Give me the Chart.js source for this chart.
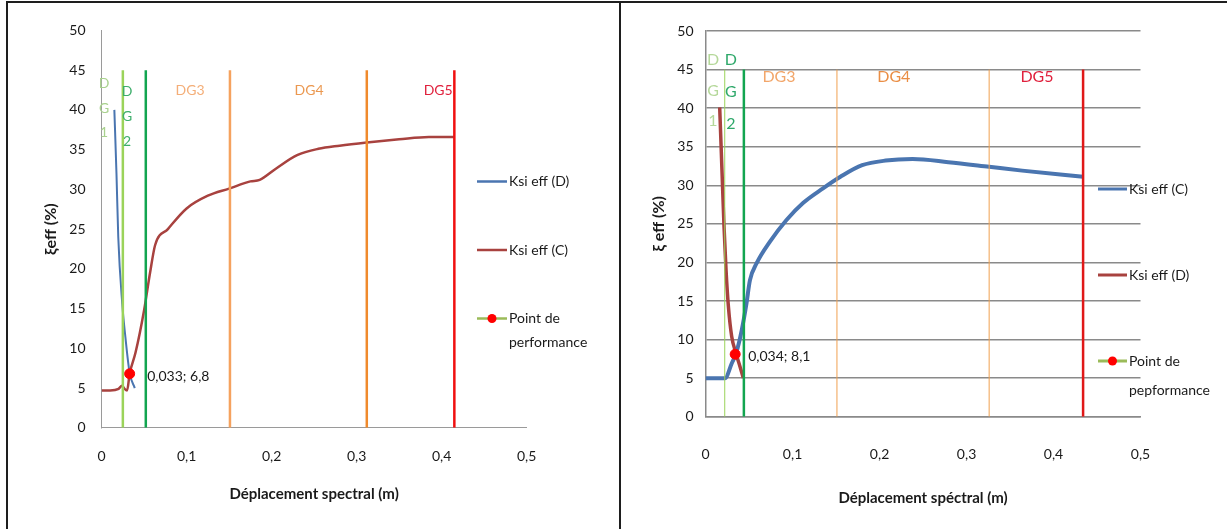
<!DOCTYPE html>
<html>
<head>
<meta charset="utf-8">
<script src="https://cdn.jsdelivr.net/npm/chart.js@4.4.1/dist/chart.umd.min.js"></script>
<style>
  html, body { margin: 0; padding: 0; background: #fff; }
  #page { position: relative; width: 1227px; height: 529px; overflow: hidden; background: #fff; }
  .rule { position: absolute; background: #1e1e1e; }
  #ruleTop { left: 6px; top: 1px; width: 1221px; height: 2px; }
  #ruleLeft { left: 6px; top: 1px; width: 2px; height: 528px; }
  #ruleMid { left: 619px; top: 1px; width: 2px; height: 528px; }
  canvas { position: absolute; top: 0; }
  #figC { left: 8px; }
  #figD { left: 621px; }
</style>
</head>
<body>
<div id="page">
  <canvas id="figC" width="611" height="529"></canvas>
  <canvas id="figD" width="606" height="529"></canvas>
  <div class="rule" id="ruleTop"></div>
  <div class="rule" id="ruleLeft"></div>
  <div class="rule" id="ruleMid"></div>
</div>
<script>
// ---- axis ticks ----
const xTickValues = [0, 0.1, 0.2, 0.3, 0.4, 0.5];
const xTickLabels = ['0', '0,1', '0,2', '0,3', '0,4', '0,5'];
const yTickValues = [0, 5, 10, 15, 20, 25, 30, 35, 40, 45, 50];
const yTickLabels = ['0', '5', '10', '15', '20', '25', '30', '35', '40', '45', '50'];

// ---- damage grades ----
const damageLevels = ['DG1', 'DG2', 'DG3', 'DG4', 'DG5'];
const limitTop = 45;

// ---- first figure: [Sd (m), ksi eff (%)] ----
const leftKsiD = [[0.015, 40.0], [0.0175, 32.0], [0.0196, 24.0], [0.0243, 15.6], [0.028, 11.4], [0.033, 6.9], [0.039, 5.0]];
const leftKsiC = [[0, 4.7], [0.01, 4.7], [0.02, 4.9], [0.024, 5.3], [0.027, 4.9], [0.03, 4.7], [0.033, 6.8], [0.04, 9.5],
  [0.05, 14.8], [0.057, 19.5], [0.063, 23.0], [0.078, 25.0], [0.1, 27.6], [0.125, 29.2], [0.15, 30.1], [0.175, 31.0],
  [0.186, 31.2], [0.205, 32.6], [0.23, 34.3], [0.255, 35.1], [0.28, 35.5], [0.312, 35.9], [0.35, 36.3], [0.385, 36.6], [0.415, 36.6]];
const leftPerf = [0.033, 6.8];
const leftLimits = [0.025, 0.052, 0.151, 0.312, 0.415];

// ---- second figure ----
const rightKsiC = [[0, 5.0], [0.0223, 5.0], [0.03, 6.9], [0.035, 8.2], [0.0415, 11.2], [0.047, 14.7], [0.051, 17.7], [0.0587, 19.9],
  [0.074, 22.7], [0.093, 25.5], [0.112, 27.7], [0.135, 29.6], [0.155, 31.1], [0.18, 32.6], [0.207, 33.2], [0.238, 33.4],
  [0.279, 33.0], [0.326, 32.4], [0.364, 31.9], [0.434, 31.1]];
const rightKsiD = [[0.0162, 40.1], [0.0188, 32.0], [0.0212, 24.6], [0.0235, 19.0], [0.0262, 14.3], [0.03, 10.4], [0.035, 8.2], [0.0395, 6.5], [0.0434, 5.0]];
const rightPerf = [0.034, 8.1];
const rightLimits = [0.022, 0.044, 0.151, 0.326, 0.434];

const BLUE = '#4A75B0';
const RED = '#A8423F';
const FONT = 'Lato, "Open Sans", "Liberation Sans", sans-serif';

const toPoints = arr => arr.map(([x, y]) => ({ x, y }));
const fmt = v => String(v).replace('.', ',');

// Annotations: grade labels, performance point label, side legend
const figureDecor = {
  id: 'figureDecor',
  afterDatasetsDraw(chart, args, opts) {
    const { ctx } = chart;
    const xs = chart.scales.x, ys = chart.scales.y;
    ctx.save();
    ctx.textBaseline = 'middle';
    ctx.textAlign = 'center';
    ctx.font = opts.zoneFont + ' ' + FONT;
    opts.zoneLabels.forEach(z => {
      const text = damageLevels[z.level];
      const px = xs.getPixelForValue(z.x);
      const py = ys.getPixelForValue(z.y);
      ctx.fillStyle = z.color;
      if (z.step) {
        [...text].forEach((ch, k) => ctx.fillText(ch, px, py + k * z.step));
      } else {
        ctx.fillText(text, px, py);
      }
    });

    // performance point label
    const p = opts.perf;
    ctx.font = opts.perfFont + ' ' + FONT;
    ctx.textAlign = 'left';
    ctx.fillStyle = '#1a1a1a';
    ctx.fillText(fmt(p.x) + '; ' + fmt(p.y), xs.getPixelForValue(p.x) + p.dx, ys.getPixelForValue(p.y) + p.dy);

    // side legend
    const lg = opts.legend;
    ctx.font = lg.font + ' ' + FONT;
    lg.items.forEach((it, k) => {
      const ds = chart.data.datasets[it.dataset];
      const y = lg.top + k * lg.gap;
      ctx.strokeStyle = it.lineColor || ds.borderColor;
      ctx.lineWidth = lg.lineWidth;
      ctx.beginPath();
      ctx.moveTo(lg.x, y);
      ctx.lineTo(lg.x + lg.lineLen, y);
      ctx.stroke();
      if (it.marker) {
        ctx.fillStyle = ds.pointBackgroundColor;
        ctx.beginPath();
        ctx.arc(lg.x + lg.lineLen / 2, y, 4.5, 0, Math.PI * 2);
        ctx.fill();
      }
      // simple greedy word wrap
      const words = ds.label.split(' ');
      const lines = [];
      let cur = '';
      words.forEach(w => {
        const test = cur ? cur + ' ' + w : w;
        if (cur && ctx.measureText(test).width > lg.maxWidth) { lines.push(cur); cur = w; }
        else cur = test;
      });
      lines.push(cur);
      ctx.fillStyle = '#1a1a1a';
      lines.forEach((ln, j) => ctx.fillText(ln, lg.x + lg.lineLen + 2, y + j * lg.lineStep));
    });
    ctx.restore();
  }
};

function limitDatasets(limits, styles) {
  return limits.map((v, i) => ({
    type: 'line',
    label: damageLevels[i],
    data: [{ x: v, y: 0 }, { x: v, y: limitTop }],
    borderColor: styles[i].color,
    borderWidth: styles[i].width,
    pointRadius: 0,
    order: 1
  }));
}

function buildFigure(canvas, spec) {
  const curves = spec.curves.map(c => ({
    type: 'line',
    label: c.label,
    data: toPoints(c.data),
    borderColor: c.color,
    borderWidth: c.width,
    pointRadius: 0,
    cubicInterpolationMode: 'monotone',
    order: 2
  }));
  const perf = {
    type: 'scatter',
    label: spec.perfLabel,
    data: [{ x: spec.perf[0], y: spec.perf[1] }],
    pointRadius: 5,
    pointBackgroundColor: '#FF0000',
    pointBorderColor: '#FF0000',
    borderColor: '#FF0000',
    order: 0
  };
  const g = spec.geom;
  return new Chart(canvas, {
    type: 'line',
    data: { datasets: [...curves, perf, ...limitDatasets(spec.limits, spec.limitStyles)] },
    options: {
      responsive: false,
      animation: false,
      events: [],
      layout: { autoPadding: false, padding: g.padding },
      plugins: {
        legend: { display: false },
        tooltip: { enabled: false },
        figureDecor: spec.decor
      },
      scales: {
        x: {
          type: 'linear',
          min: 0, max: 0.5,
          afterBuildTicks: s => { s.ticks = xTickValues.map(v => ({ value: v })); },
          afterFit: s => { s.height = g.xHeight; },
          ticks: {
            callback: (v, i) => xTickLabels[i],
            padding: g.xTickPad,
            maxRotation: 0,
            color: '#1a1a1a',
            font: { family: FONT, size: 14 }
          },
          grid: { display: false, drawTicks: false },
          border: { display: true, color: spec.axisColor, width: spec.axisWidth },
          title: {
            display: true,
            text: spec.xTitle,
            color: '#1a1a1a',
            padding: { top: 0, bottom: 0 },
            font: { family: FONT, size: 15, weight: 'bold' }
          }
        },
        y: {
          type: 'linear',
          min: 0, max: 50,
          afterBuildTicks: s => { s.ticks = yTickValues.map(v => ({ value: v })); },
          afterFit: s => { s.width = g.yWidth; },
          ticks: {
            callback: (v, i) => yTickLabels[i],
            padding: g.yTickPad,
            color: '#1a1a1a',
            font: { family: FONT, size: 14 }
          },
          grid: {
            display: spec.hGrid,
            drawTicks: false,
            color: spec.axisColor,
            lineWidth: 1.5
          },
          border: { display: true, color: spec.axisColor, width: spec.axisWidth },
          title: {
            display: true,
            text: spec.yTitle,
            color: '#1a1a1a',
            padding: { top: g.yTitlePad, bottom: 0 },
            font: { family: FONT, size: 16, weight: 'bold' }
          }
        }
      }
    },
    plugins: [figureDecor]
  });
}

// first figure
buildFigure(document.getElementById('figC'), {
  curves: [
    { label: 'Ksi eff (D)', data: leftKsiD, color: BLUE, width: 2 },
    { label: 'Ksi eff (C)', data: leftKsiC, color: RED, width: 2.5 }
  ],
  perf: leftPerf,
  perfLabel: 'Point de performance',
  limits: leftLimits,
  limitStyles: [
    { color: '#9BD35A', width: 2.5 },
    { color: '#12A550', width: 2.5 },
    { color: '#F5A25E', width: 2.5 },
    { color: '#F08A2C', width: 2.5 },
    { color: '#F01010', width: 2.5 }
  ],
  hGrid: false,
  axisColor: '#9a9a9a',
  axisWidth: 1,
  xTitle: 'Déplacement spectral (m)',
  yTitle: 'ξeff (%)',
  geom: {
    padding: { left: 33.6, right: 92.4, top: 30.4, bottom: 26.2 },
    yWidth: 60, xHeight: 75, xTickPad: 20.5, yTickPad: 16, yTitlePad: 0
  },
  decor: {
    zoneFont: '14px',
    zoneLabels: [
      { level: 0, x: 0.003, y: 43.3, step: 24.5, color: '#A9D18E' },
      { level: 1, x: 0.030, y: 42.3, step: 25, color: '#3DAE6B' },
      { level: 2, x: 0.104, y: 42.5, color: '#F4AE78' },
      { level: 3, x: 0.244, y: 42.5, color: '#EB9850' },
      { level: 4, x: 0.396, y: 42.5, color: '#E0213D' }
    ],
    perfFont: '14px',
    perf: { x: leftPerf[0], y: leftPerf[1], dx: 17.5, dy: 3 },
    legend: {
      font: '14px', x: 469, lineLen: 30, lineWidth: 2.5, top: 181.5, gap: 68.5, lineStep: 24, maxWidth: 80,
      items: [{ dataset: 0 }, { dataset: 1 }, { dataset: 2, marker: true, lineColor: '#9BBB59' }]
    }
  }
});

// second figure
buildFigure(document.getElementById('figD'), {
  curves: [
    { label: 'Ksi eff (C)', data: rightKsiC, color: BLUE, width: 4 },
    { label: 'Ksi eff (D)', data: rightKsiD, color: RED, width: 3.5 }
  ],
  perf: rightPerf,
  perfLabel: 'Point de pepformance',
  limits: rightLimits,
  limitStyles: [
    { color: '#9BD35A', width: 1 },
    { color: '#12A550', width: 2.5 },
    { color: '#F0A050', width: 1 },
    { color: '#F0A050', width: 1 },
    { color: '#E01818', width: 2.5 }
  ],
  hGrid: true,
  axisColor: '#8a8a8a',
  axisWidth: 1.5,
  xTitle: 'Déplacement spéctral (m)',
  yTitle: 'ξ eff (%)',
  geom: {
    padding: { left: 24.6, right: 86.5, top: 31, bottom: 21.6 },
    yWidth: 60, xHeight: 90.7, xTickPad: 29, yTickPad: 12, yTitlePad: 4
  },
  decor: {
    zoneFont: '16px',
    zoneLabels: [
      { level: 0, x: 0.0085, y: 46.2, step: 30.5, color: '#B5D89A' },
      { level: 1, x: 0.029, y: 46.2, step: 32, color: '#2EA86A' },
      { level: 2, x: 0.0844, y: 44.0, color: '#F2A66A' },
      { level: 3, x: 0.2164, y: 44.0, color: '#EA8E45' },
      { level: 4, x: 0.381, y: 44.0, color: '#E0213D' }
    ],
    perfFont: '14px',
    perf: { x: rightPerf[0], y: rightPerf[1], dx: 13, dy: 2 },
    legend: {
      font: '14px', x: 477, lineLen: 29, lineWidth: 3, top: 189, gap: 86, lineStep: 29, maxWidth: 70,
      items: [{ dataset: 0 }, { dataset: 1 }, { dataset: 2, marker: true, lineColor: '#9BBB59' }]
    }
  }
});
</script>
</body>
</html>
